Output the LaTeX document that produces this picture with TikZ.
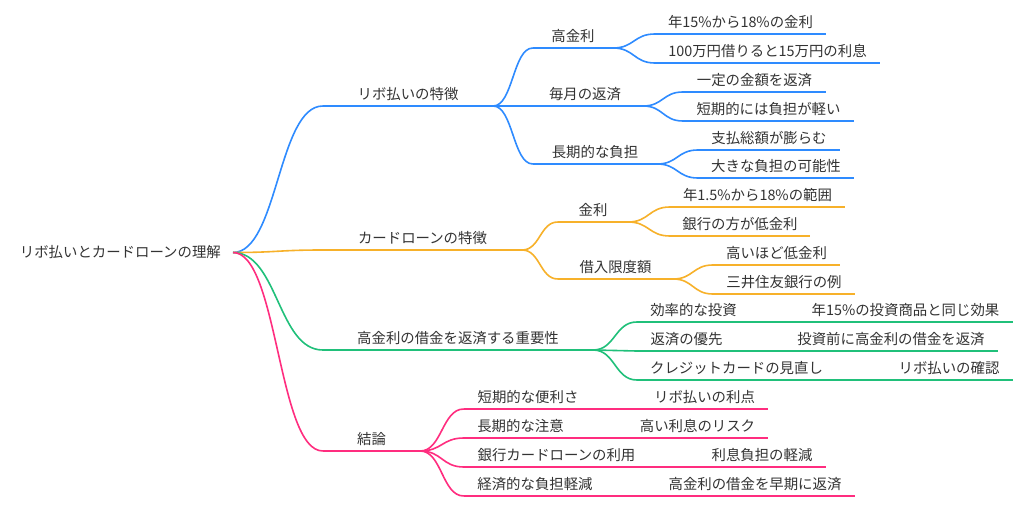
\documentclass[tikz,border=0pt]{standalone}
\usepackage{fontspec}
\setmainfont{Noto Sans CJK JP}
\usetikzlibrary{calc}
\definecolor{mmblue}{HTML}{2E8BFF}
\definecolor{mmorange}{HTML}{F7B12A}
\definecolor{mmgreen}{HTML}{20C07A}
\definecolor{mmpink}{HTML}{FF2D7F}
\definecolor{txt}{HTML}{333333}
\tikzset{
  item/.style={inner xsep=0pt, inner ysep=0pt, text depth=6.3pt, minimum width=#1, anchor=south,
    font=\fontsize{14.4}{16}\selectfont, text=txt},
  uline/.style={line width=1.6pt},
  link/.style={line width=1.6pt},
}
\newcommand\mmnode[6]{%
  \node[item=#5pt] (#1) at (#3,#4) {#6};
  \draw[uline,#2] (#1.south west) -- (#1.south east);}
\newcommand\mmlink[3]{%
  \path (#1) -- coordinate[pos=0.5] (mmmid) (#2);
  \draw[link,#3] (#1) .. controls (mmmid |- #1) and (mmmid |- #2) .. (#2);}
\begin{document}
\begin{tikzpicture}[x=1pt,y=-1pt]
\useasboundingbox[fill=white] (0,0) rectangle (1024,505);
\node[inner xsep=12pt, inner ysep=0pt, anchor=east, font=\fontsize{14.4}{16}\selectfont, text=txt] (root) at (233,252.5) {リボ払いとカードローンの理解};
% level 1
\mmnode{A}{mmblue}{408}{106}{170}{リボ払いの特徴}
\mmnode{B}{mmorange}{422.5}{250}{199}{カードローンの特徴}
\mmnode{C}{mmgreen}{458}{350}{270}{高金利の借金を返済する重要性}
\mmnode{D}{mmpink}{371.5}{451}{97}{結論}
\mmlink{root.east}{A.south west}{mmblue}
\mmlink{root.east}{B.south west}{mmorange}
\mmlink{root.east}{C.south west}{mmgreen}
\mmlink{root.east}{D.south west}{mmpink}
% blue
\mmnode{A1}{mmblue}{573}{48}{80}{高金利}
\mmnode{A2}{mmblue}{585}{106}{116}{毎月の返済}
\mmnode{A3}{mmblue}{595}{164}{124}{長期的な負担}
\mmlink{A.south east}{A1.south west}{mmblue}
\mmlink{A.south east}{A2.south west}{mmblue}
\mmlink{A.south east}{A3.south west}{mmblue}
\mmnode{A11}{mmblue}{740.5}{34}{171}{年15\%から18\%の金利}
\mmnode{A12}{mmblue}{767.5}{63}{225}{100万円借りると15万円の利息}
\mmnode{A21}{mmblue}{754.5}{92}{143}{一定の金額を返済}
\mmnode{A22}{mmblue}{768.5}{121}{171}{短期的には負担が軽い}
\mmnode{A31}{mmblue}{769}{150}{142}{支払総額が膨らむ}
\mmnode{A32}{mmblue}{776}{178}{156}{大きな負担の可能性}
\mmlink{A1.south east}{A11.south west}{mmblue}
\mmlink{A1.south east}{A12.south west}{mmblue}
\mmlink{A2.south east}{A21.south west}{mmblue}
\mmlink{A2.south east}{A22.south west}{mmblue}
\mmlink{A3.south east}{A31.south west}{mmblue}
\mmlink{A3.south east}{A32.south west}{mmblue}
% orange
\mmnode{B1}{mmorange}{593}{222}{70}{金利}
\mmnode{B2}{mmorange}{615.5}{279}{115}{借入限度額}
\mmlink{B.south east}{B1.south west}{mmorange}
\mmlink{B.south east}{B2.south west}{mmorange}
\mmnode{B11}{mmorange}{757.5}{207}{175}{年1.5\%から18\%の範囲}
\mmnode{B12}{mmorange}{740}{236}{140}{銀行の方が低金利}
\mmnode{B21}{mmorange}{776.5}{265}{127}{高いほど低金利}
\mmnode{B22}{mmorange}{784}{294}{142}{三井住友銀行の例}
\mmlink{B1.south east}{B11.south west}{mmorange}
\mmlink{B1.south east}{B12.south west}{mmorange}
\mmlink{B2.south east}{B21.south west}{mmorange}
\mmlink{B2.south east}{B22.south west}{mmorange}
% green
\mmnode{C1}{mmgreen}{693.5}{322}{113}{効率的な投資}
\mmnode{C2}{mmgreen}{686.5}{351}{99}{返済の優先}
\mmnode{C3}{mmgreen}{736.5}{380}{199}{クレジットカードの見直し}
\mmlink{C.south east}{C1.south west}{mmgreen}
\mmlink{C.south east}{C2.south west}{mmgreen}
\mmlink{C.south east}{C3.south west}{mmgreen}
\mmnode{C11}{mmgreen}{905.5}{322}{215}{年15\%の投資商品と同じ効果}
\mmnode{C21}{mmgreen}{891}{351}{214}{投資前に高金利の借金を返済}
\mmnode{C31}{mmgreen}{949}{380}{128}{リボ払いの確認}
\mmlink{C1.south east}{C11.south west}{mmgreen}
\mmlink{C2.south east}{C21.south west}{mmgreen}
\mmlink{C3.south east}{C31.south west}{mmgreen}
% pink
\mmnode{D1}{mmpink}{528}{409}{128}{短期的な便利さ}
\mmnode{D2}{mmpink}{520.5}{438}{113}{長期的な注意}
\mmnode{D3}{mmpink}{556.5}{467}{185}{銀行カードローンの利用}
\mmnode{D4}{mmpink}{535}{496}{142}{経済的な負担軽減}
\mmlink{D.south east}{D1.south west}{mmpink}
\mmlink{D.south east}{D2.south west}{mmpink}
\mmlink{D.south east}{D3.south west}{mmpink}
\mmlink{D.south east}{D4.south west}{mmpink}
\mmnode{D11}{mmpink}{704.5}{409}{127}{リボ払いの利点}
\mmnode{D21}{mmpink}{697.5}{438}{141}{高い利息のリスク}
\mmnode{D31}{mmpink}{762}{467}{128}{利息負担の軽減}
\mmnode{D41}{mmpink}{755}{496}{200}{高金利の借金を早期に返済}
\mmlink{D1.south east}{D11.south west}{mmpink}
\mmlink{D2.south east}{D21.south west}{mmpink}
\mmlink{D3.south east}{D31.south west}{mmpink}
\mmlink{D4.south east}{D41.south west}{mmpink}
\end{tikzpicture}
\end{document}
